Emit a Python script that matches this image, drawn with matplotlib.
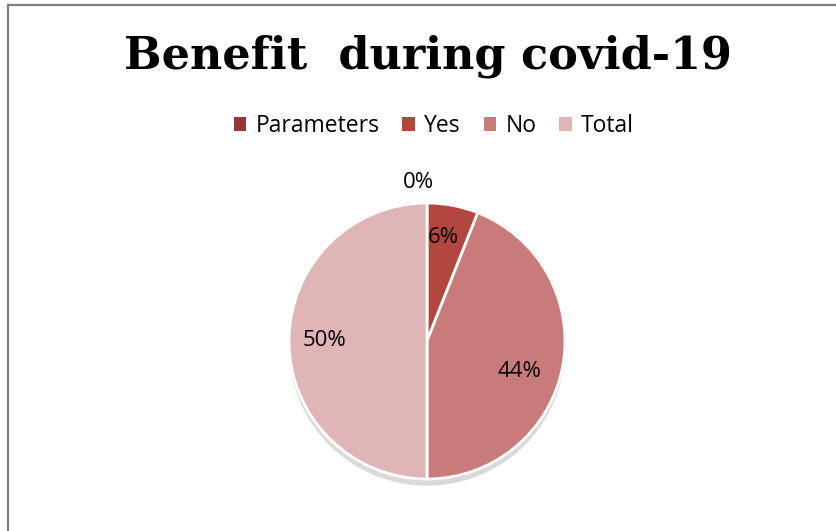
import matplotlib.pyplot as plt
from matplotlib.lines import Line2D
from matplotlib.patches import Patch

labels = ['Parameters', 'Yes', 'No', 'Total']
values = [0, 12, 88, 100]
colors = ['#953735', '#B3463F', '#C97B7A', '#DFB5B5']

fig = plt.figure(figsize=(8.36, 5.31), dpi=100)
fig.patch.set_facecolor('white')

# 가장자리 테두리 (왼쪽, 위쪽)
fig.add_artist(Line2D([8/836, 8/836], [0, 1 - 5/531], color='#7f7f7f', lw=1.6))
fig.add_artist(Line2D([8/836, 1], [1 - 5/531, 1 - 5/531], color='#7f7f7f', lw=1.6))

fig.text(428/836, 1 - 68/531, 'Benefit  during covid-19', ha='center', va='baseline',
         fontsize=32, fontweight='bold', family='DejaVu Serif')

ax = fig.add_axes([(427 - 207)/836, (190 - 207)/531, 414/836, 414/531])
wedges, texts, autotexts = ax.pie(values, colors=colors, startangle=90, counterclock=False,
                                  autopct='%.0f%%', pctdistance=0.74,
                                  shadow={'ox': 0.0, 'oy': -0.035, 'alpha': 0.18,
                                          'edgecolor': 'none'},
                                  wedgeprops={'edgecolor': 'w', 'linewidth': 2},
                                  textprops={'fontsize': 16, 'family': 'Open Sans'})
ax.set_xlim(-1.5, 1.5)
ax.set_ylim(-1.5, 1.5)
autotexts[0].set_position((-0.06, 1.15))
autotexts[1].set_position((0.115, 0.75))
autotexts[2].set_position((0.67, -0.22))

handles = [Patch(facecolor=c, edgecolor='none') for c in colors]
fig.legend(handles, labels, loc='center', bbox_to_anchor=(434/836, 1 - 126/531), ncol=4,
           frameon=False, handlelength=0.55, handleheight=0.55, handletextpad=0.4,
           columnspacing=1.0, prop={'family': 'Open Sans', 'size': 16.5})

plt.savefig('out.png', dpi=100)
